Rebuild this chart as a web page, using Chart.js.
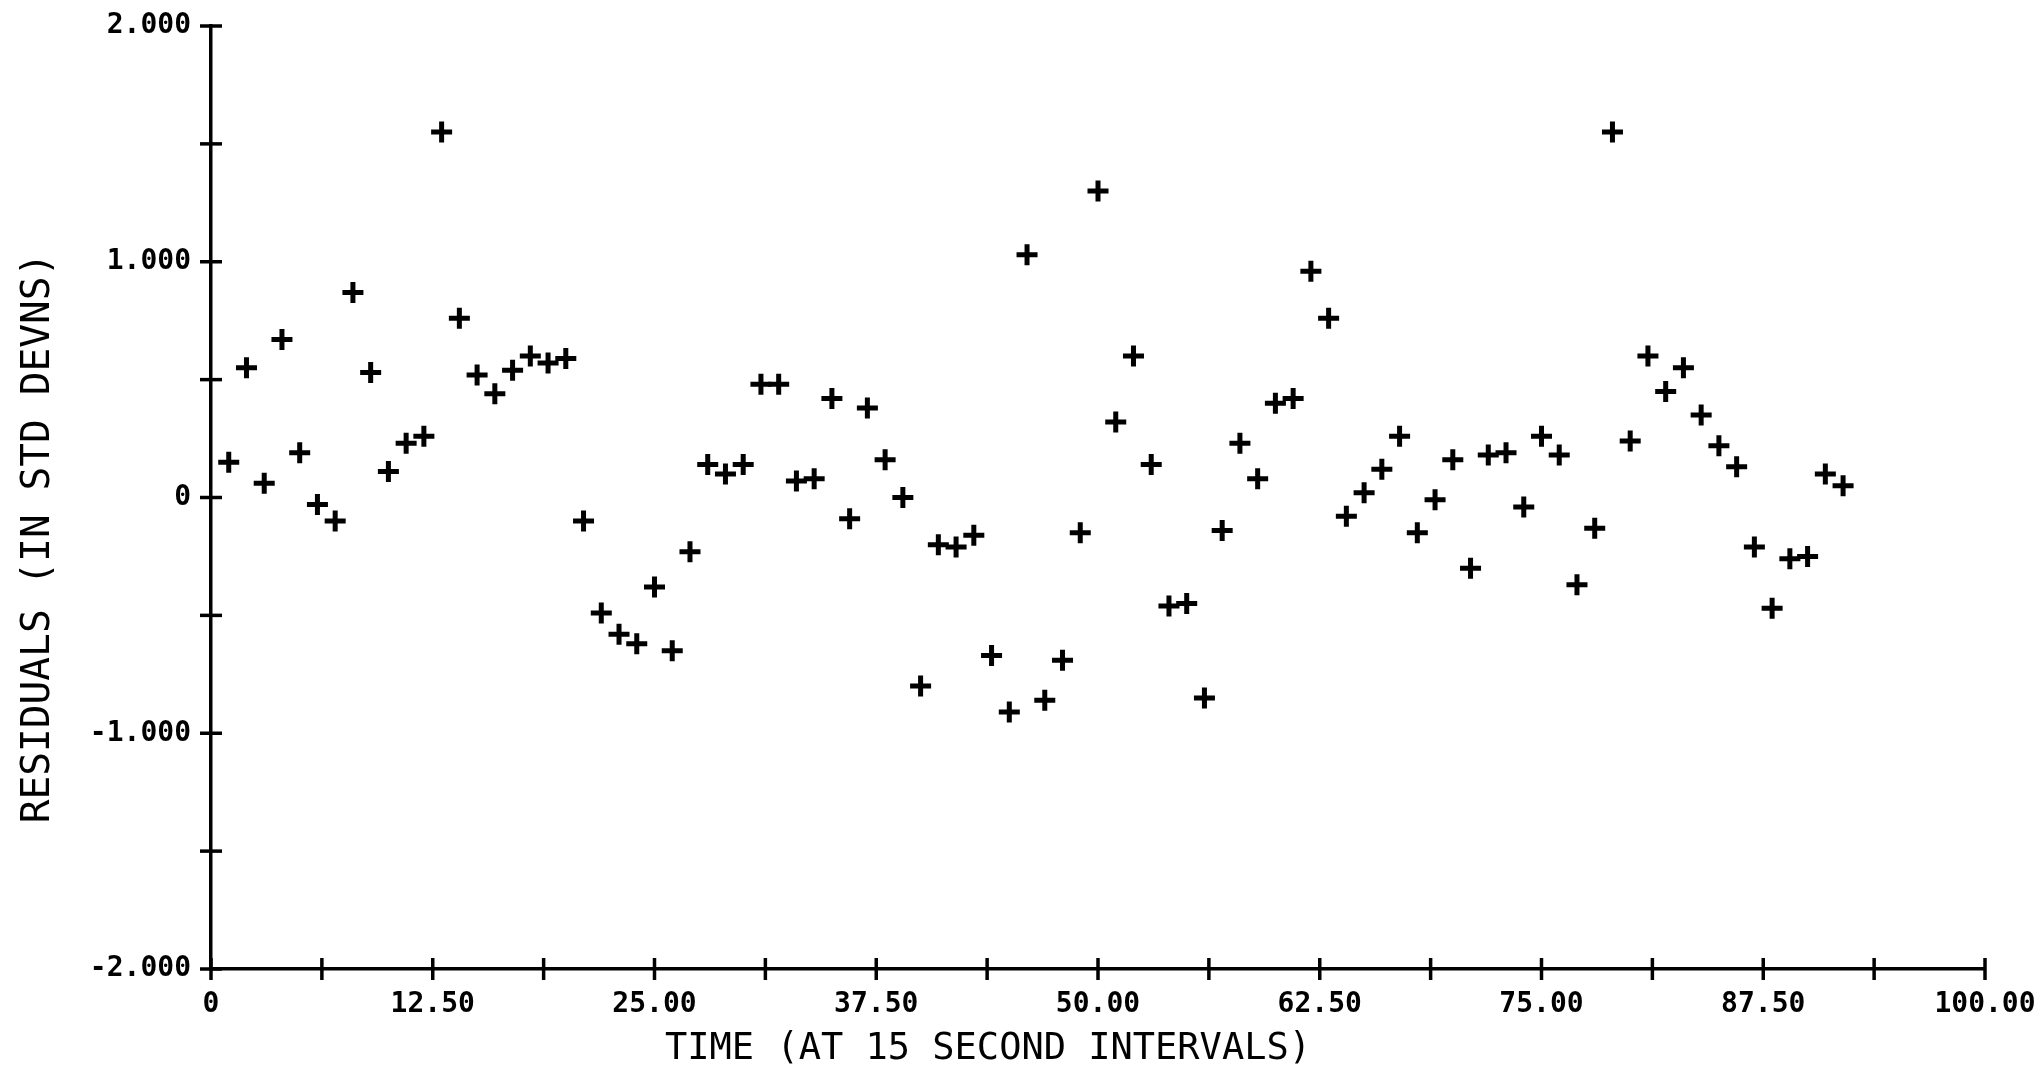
<!DOCTYPE html>
<html>
<head>
<meta charset="utf-8">
<script src="https://cdn.jsdelivr.net/npm/chart.js@4.4.1/dist/chart.umd.min.js"></script>
<style>
  html, body { margin: 0; padding: 0; background: #ffffff; }
  #wrap { width: 2040px; height: 1071px; position: relative; }
</style>
</head>
<body>
<div id="wrap"><canvas id="c" width="2040" height="1071"></canvas></div>
<script>
// ---- data ----
const timeSteps = [
  1, 2, 3, 4, 5, 6, 7, 8, 9, 10,
  11, 12, 13, 14, 15, 16, 17, 18, 19, 20,
  21, 22, 23, 24, 25, 26, 27, 28, 29, 30,
  31, 32, 33, 34, 35, 36, 37, 38, 39, 40,
  41, 42, 43, 44, 45, 46, 47, 48, 49, 50,
  51, 52, 53, 54, 55, 56, 57, 58, 59, 60,
  61, 62, 63, 64, 65, 66, 67, 68, 69, 70,
  71, 72, 73, 74, 75, 76, 77, 78, 79, 80,
  81, 82, 83, 84, 85, 86, 87, 88, 89, 90,
  91, 92
];
const residuals = [
  0.15, 0.55, 0.06, 0.67, 0.19, -0.03, -0.10, 0.87, 0.53, 0.11,
  0.23, 0.26, 1.55, 0.76, 0.52, 0.44, 0.54, 0.60, 0.57, 0.59,
  -0.10, -0.49, -0.58, -0.62, -0.38, -0.65, -0.23, 0.14, 0.10, 0.14,
  0.48, 0.48, 0.07, 0.08, 0.42, -0.09, 0.38, 0.16, 0.00, -0.80,
  -0.20, -0.21, -0.16, -0.67, -0.91, 1.03, -0.86, -0.69, -0.15, 1.30,
  0.32, 0.60, 0.14, -0.46, -0.45, -0.85, -0.14, 0.23, 0.08, 0.40,
  0.42, 0.96, 0.76, -0.08, 0.02, 0.12, 0.26, -0.15, -0.01, 0.16,
  -0.30, 0.18, 0.19, -0.04, 0.26, 0.18, -0.37, -0.13, 1.55, 0.24,
  0.60, 0.45, 0.55, 0.35, 0.22, 0.13, -0.21, -0.47, -0.26, -0.25,
  0.10, 0.05
];
const xTickValues = [0, 12.5, 25, 37.5, 50, 62.5, 75, 87.5, 100];
const xTickLabels = ["0", "12.50", "25.00", "37.50", "50.00", "62.50", "75.00", "87.50", "100.00"];
const yTickValues = [-2, -1, 0, 1, 2];
const yTickLabels = ["-2.000", "-1.000", "0", "1.000", "2.000"];
const xTitle = "TIME (AT 15 SECOND INTERVALS)";
const yTitle = "RESIDUALS (IN STD DEVNS)";

// ---- chart ----
const points = timeSteps.map((t, i) => ({ x: t, y: residuals[i] }));

function labelFor(values, labels) {
  return function (v) {
    for (let i = 0; i < values.length; i++) {
      if (Math.abs(values[i] - v) < 1e-6) return labels[i];
    }
    return '';
  };
}

const tickFont = { family: '"DejaVu Sans Mono", monospace', size: 28, weight: 'bold' };

const axisMarks = {
  id: 'axisMarks',
  afterDraw(chart) {
    const { ctx, chartArea } = chart;
    const xs = chart.scales.x, ys = chart.scales.y;
    ctx.save();
    ctx.strokeStyle = '#000';
    ctx.lineWidth = 3.5;
    xs.ticks.forEach(t => {
      const px = xs.getPixelForValue(t.value);
      ctx.beginPath();
      ctx.moveTo(px, chartArea.bottom - 11);
      ctx.lineTo(px, chartArea.bottom + 11);
      ctx.stroke();
    });
    ys.ticks.forEach(t => {
      const py = ys.getPixelForValue(t.value);
      ctx.beginPath();
      ctx.moveTo(chartArea.left - 11, py);
      ctx.lineTo(chartArea.left + 11, py);
      ctx.stroke();
    });
    ctx.fillStyle = '#000';
    ctx.font = '37px "DejaVu Sans Mono", monospace';
    ctx.textAlign = 'center';
    ctx.textBaseline = 'middle';
    ctx.fillText(xTitle, 988, 1049);
    ctx.translate(39, 538);
    ctx.rotate(-Math.PI / 2);
    ctx.font = '39.5px "DejaVu Sans Mono", monospace';
    ctx.fillText(yTitle, 0, 0);
    ctx.restore();
  }
};

new Chart(document.getElementById('c'), {
  type: 'scatter',
  data: {
    datasets: [{
      data: points,
      showLine: false,
      pointStyle: 'cross',
      pointRadius: 10.5,
      pointBorderWidth: 5,
      borderColor: '#000',
      backgroundColor: '#000'
    }]
  },
  options: {
    responsive: false,
    devicePixelRatio: 1,
    animation: false,
    events: [],
    layout: { padding: { top: 26, right: 55, bottom: 0, left: 0 } },
    plugins: { legend: { display: false }, tooltip: { enabled: false } },
    scales: {
      x: {
        type: 'linear',
        min: 0, max: 100,
        afterFit(s) { s.height = 102; s.paddingLeft = 0; s.paddingRight = 0; },
        grid: { display: false, drawTicks: false },
        border: { display: true, color: '#000', width: 3.5 },
        ticks: {
          stepSize: 6.25, maxTicksLimit: 40, autoSkip: false, maxRotation: 0, minRotation: 0,
          padding: 19, color: '#000', font: tickFont,
          callback: labelFor(xTickValues, xTickLabels)
        }
      },
      y: {
        type: 'linear',
        min: -2, max: 2,
        afterFit(s) { s.width = 211; s.paddingTop = 0; s.paddingBottom = 0; },
        grid: { display: false, drawTicks: false },
        border: { display: true, color: '#000', width: 3.5 },
        ticks: {
          stepSize: 0.5, maxTicksLimit: 40, autoSkip: false,
          padding: 20, color: '#000', font: tickFont,
          callback: labelFor(yTickValues, yTickLabels)
        }
      }
    }
  },
  plugins: [axisMarks]
});
</script>
</body>
</html>
